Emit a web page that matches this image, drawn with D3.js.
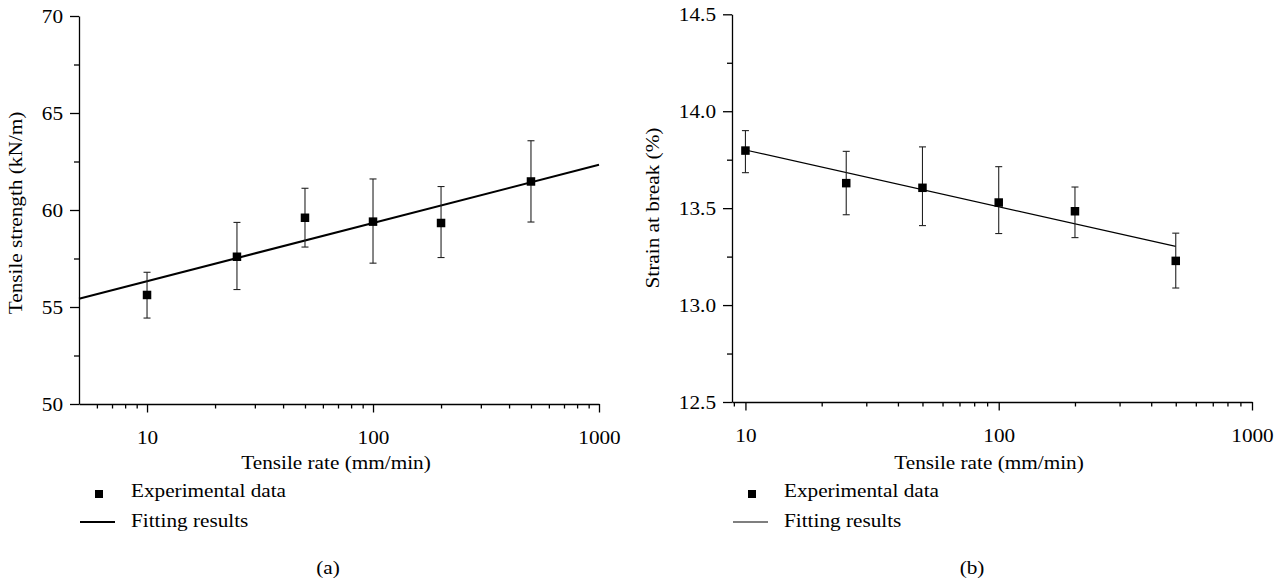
<!DOCTYPE html>
<html>
<head>
<meta charset="utf-8">
<script src="https://cdn.jsdelivr.net/npm/d3@7/dist/d3.min.js"></script>
<style>
  html, body { margin: 0; padding: 0; background: #fff; }
  svg { display: block; }
  text { font-family: 'Liberation Serif', 'Times New Roman', serif; fill: #000; }
</style>
</head>
<body>
<svg id="chart" width="1279" height="580"></svg>
<script>
// ---------- data ----------
const rates = [10, 25, 50, 100, 200, 500];

// (a) Tensile strength (kN/m)
const strength = [55.62, 57.59, 59.60, 59.40, 59.33, 61.47];
const strengthHigh = [56.79, 59.36, 61.12, 61.60, 61.21, 63.57];
const strengthLow = [54.43, 55.90, 58.09, 57.26, 57.55, 59.38];
const strengthFitX = [5, 1000];
const strengthFitY = [55.43, 62.33];

// (b) Strain at break (%)
const strain = [13.797, 13.629, 13.605, 13.529, 13.484, 13.228];
const strainHigh = [13.900, 13.793, 13.816, 13.714, 13.609, 13.371];
const strainLow = [13.683, 13.466, 13.410, 13.369, 13.348, 13.088];
const strainFitX = [10, 500];
const strainFitY = [13.80, 13.303];

// ticks
const xMajorTicks = [10, 100, 1000];
const xMinorTicks = [6, 7, 8, 9, 20, 30, 40, 50, 60, 70, 80, 90, 200, 300, 400, 500, 600, 700, 800, 900];
const strengthMajorTicks = [50, 55, 60, 65, 70];
const strengthMinorTicks = [52.5, 57.5, 62.5, 67.5];
const strainMajorTicks = [12.5, 13.0, 13.5, 14.0, 14.5];
const strainMinorTicks = [12.75, 13.25, 13.75, 14.25];

const xTitle = "Tensile rate (mm/min)";
const legendLabels = ["Experimental data", "Fitting results"];

// ---------- drawing ----------
const svg = d3.select("#chart");
const FS = 18, SX = 1.18;

function panel(o) {
  const g = svg.append("g");
  const x = d3.scaleLog().domain(o.xDomain).range(o.xRange);
  const y = d3.scaleLinear().domain(o.yDomain).range(o.yRange);
  const x0 = o.xRange[0], yb = o.yRange[0];

  // x axis major
  const gx = g.append("g").attr("transform", `translate(0,${yb})`)
    .call(d3.axisBottom(x).tickValues(xMajorTicks).tickSize(8.5).tickSizeOuter(0).tickFormat(d3.format("d")));
  gx.selectAll("text").attr("y", 0).attr("dy", 0)
    .attr("transform", `translate(0,40) scale(${SX},1)`)
    .style("font-size", FS + "px").style("font-family", "'Liberation Serif', serif");
  // x axis minor
  g.append("g").attr("transform", `translate(0,${yb})`)
    .call(d3.axisBottom(x).tickValues(xMinorTicks.filter(v => v >= o.xDomain[0] && v <= o.xDomain[1]))
      .tickSize(4.5).tickSizeOuter(0).tickFormat(""))
    .select(".domain").remove();

  // y axis major
  const gy = g.append("g").attr("transform", `translate(${x0},0)`)
    .call(d3.axisLeft(y).tickValues(o.yMajor).tickSize(9).tickSizeOuter(0).tickFormat(o.yFormat));
  gy.selectAll("text").attr("x", 0).attr("dy", "0.35em")
    .attr("transform", `translate(-16,0) scale(${SX},1)`)
    .style("font-size", FS + "px").style("font-family", "'Liberation Serif', serif");
  // y axis minor
  g.append("g").attr("transform", `translate(${x0},0)`)
    .call(d3.axisLeft(y).tickValues(o.yMinor).tickSize(5).tickSizeOuter(0).tickFormat(""))
    .select(".domain").remove();

  g.selectAll(".domain, .tick line").attr("stroke", "#000").attr("stroke-width", 1.3);

  // fit line
  const fit = o.fitX.map((v, i) => [v, o.fitY[i]]);
  g.append("path").datum(fit)
    .attr("d", d3.line().x(d => x(d[0])).y(d => y(d[1])))
    .attr("fill", "none").attr("stroke", "#000").attr("stroke-width", o.fitWidth);

  // error bars
  const pts = rates.map((r, i) => ({ r, v: o.values[i], hi: o.high[i], lo: o.low[i] }));
  const eb = g.append("g").attr("stroke", "#222").attr("stroke-width", 1.1);
  pts.forEach(p => {
    const cx = x(p.r);
    eb.append("line").attr("x1", cx).attr("x2", cx).attr("y1", y(p.hi)).attr("y2", y(p.lo));
    eb.append("line").attr("x1", cx - 3.5).attr("x2", cx + 3.5).attr("y1", y(p.hi)).attr("y2", y(p.hi));
    eb.append("line").attr("x1", cx - 3.5).attr("x2", cx + 3.5).attr("y1", y(p.lo)).attr("y2", y(p.lo));
  });
  // squares
  const s = 8.5;
  g.selectAll("rect.pt").data(pts).enter().append("rect").attr("class", "pt")
    .attr("x", d => x(d.r) - s / 2).attr("y", d => y(d.v) - s / 2)
    .attr("width", s).attr("height", s).attr("fill", "#000");

  // titles
  const cx = (o.xRange[0] + o.xRange[1]) / 2;
  g.append("text").attr("text-anchor", "middle").style("font-size", FS + "px")
    .attr("transform", `translate(${cx - 3},469) scale(${SX},1)`).text(xTitle);
  g.append("text").attr("text-anchor", "middle").style("font-size", FS + "px")
    .attr("transform", `translate(${o.yTitleX},${o.yTitleY}) rotate(-90) scale(${SX},1)`).text(o.yTitle);

  // legend
  g.append("rect").attr("x", x0 + 20 - 4).attr("y", 494 - 4).attr("width", 8).attr("height", 8).attr("fill", "#000");
  g.append("text").style("font-size", FS + "px")
    .attr("transform", `translate(${x0 + 52},497) scale(${SX},1)`).text(legendLabels[0]);
  g.append("line").attr("x1", x0 + 1).attr("x2", x0 + 36).attr("y1", 522).attr("y2", 522)
    .attr("stroke", "#000").attr("stroke-width", o.fitWidth);
  g.append("text").style("font-size", FS + "px")
    .attr("transform", `translate(${x0 + 52},527) scale(${SX},1)`).text(legendLabels[1]);

  // caption
  g.append("text").attr("text-anchor", "middle").style("font-size", FS + "px")
    .attr("transform", `translate(${cx + o.captionShift},574) scale(${SX},1)`).text(o.caption);
}

panel({
  xDomain: [5, 1000], xRange: [79, 599],
  yDomain: [50, 70], yRange: [404, 16],
  yMajor: strengthMajorTicks, yMinor: strengthMinorTicks, yFormat: d3.format("d"),
  values: strength, high: strengthHigh, low: strengthLow,
  fitX: strengthFitX, fitY: strengthFitY, fitWidth: 2,
  yTitle: "Tensile strength (kN/m)", yTitleX: 22, yTitleY: 213,
  caption: "(a)", captionShift: -11
});

panel({
  xDomain: [8.85, 1000], xRange: [732, 1252],
  yDomain: [12.5, 14.5], yRange: [402, 14.3],
  yMajor: strainMajorTicks, yMinor: strainMinorTicks, yFormat: d3.format(".1f"),
  values: strain, high: strainHigh, low: strainLow,
  fitX: strainFitX, fitY: strainFitY, fitWidth: 1.2,
  yTitle: "Strain at break (%)", yTitleX: 659, yTitleY: 208,
  caption: "(b)", captionShift: -20
});
</script>
</body>
</html>
